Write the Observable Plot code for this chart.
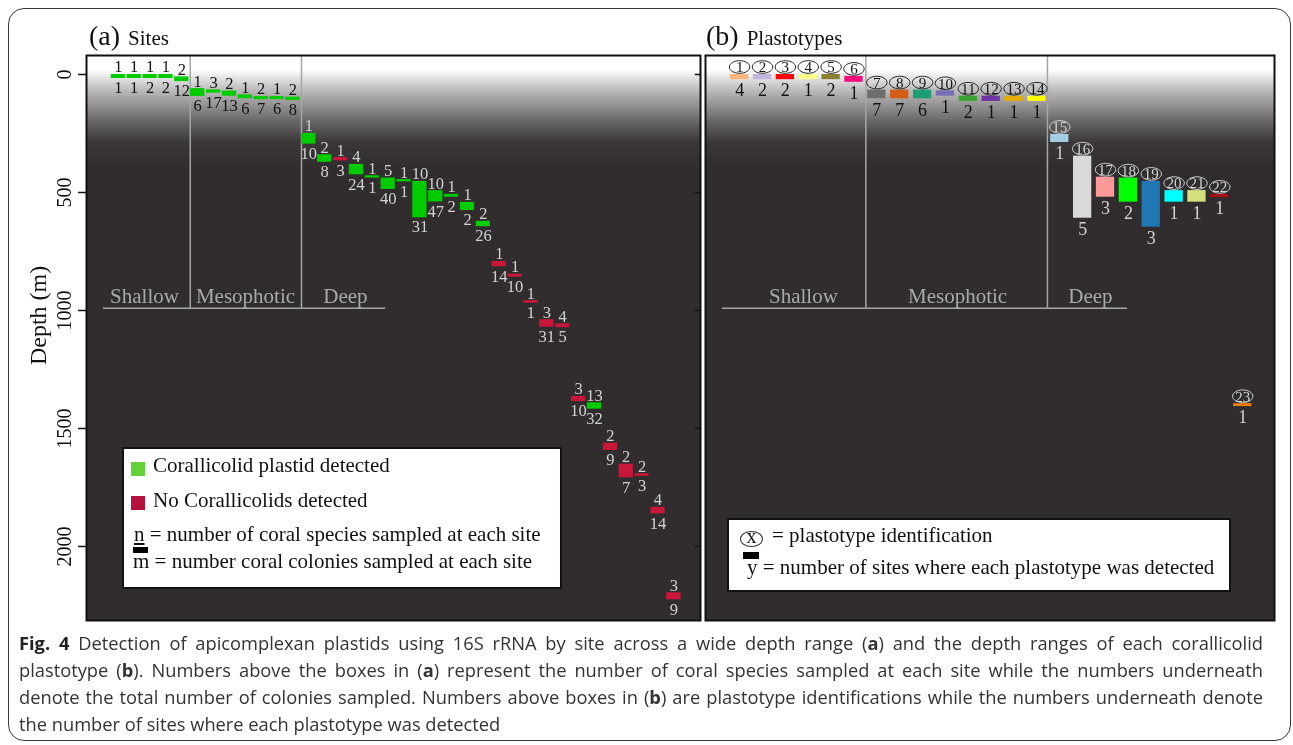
<!DOCTYPE html>
<html>
<head>
<meta charset="utf-8">
<script src="https://cdn.jsdelivr.net/npm/d3@7"></script>
<script src="https://cdn.jsdelivr.net/npm/@observablehq/plot@0.6"></script>
<style>
  body { margin: 0; background: #fff; }
  #page { position: relative; width: 1293px; height: 745px; overflow: hidden; font-family: "Liberation Serif", "Times New Roman", serif; background: #fff; }
  .abs { position: absolute; }
  .cap { position: absolute; left: 19px; width: 1244px; font-family: "Open Sans", sans-serif; font-size: 18.3px; line-height: 27px; color: #333; }
  .just { text-align: justify; text-align-last: justify; }
  .lift { mix-blend-mode: lighten; pointer-events: none;
          background: linear-gradient(to bottom, #ffffff 0%, #ffffff 2.6%, #cacaca 5.4%, #8c8c8c 8.9%, #5a5a5a 11.9%, #383838 15.4%, #000000 19%, #000000 100%); }
</style>
</head>
<body>
<div id="page">
  <div class="abs" style="left:8px;top:8px;width:1281px;height:731px;border:1.5px solid #3a3a3a;border-radius:16px;"></div>
  <div id="bgA" class="abs" style="left:0;top:0"></div>
  <div id="bgB" class="abs" style="left:703px;top:0"></div>
  <div class="abs lift" style="left:86px;top:55px;width:614px;height:565px"></div>
  <div class="abs lift" style="left:705px;top:55px;width:569px;height:565px"></div>
  <div id="chartA" class="abs" style="left:0;top:0"></div>
  <div id="chartB" class="abs" style="left:703px;top:0"></div>

  <div class="abs" style="left:89px;top:20px;white-space:nowrap;color:#111"><span style="font-size:28px">(a)</span><span style="font-size:21px;margin-left:8px">Sites</span></div>
  <div class="abs" style="left:706px;top:20px;white-space:nowrap;color:#111"><span style="font-size:28px">(b)</span><span style="font-size:21px;margin-left:8px">Plastotypes</span></div>

  <!-- legend (a) -->
  <div class="abs" style="left:122px;top:447px;width:436px;height:138px;background:#fff;border:2px solid #111;"></div>
  <div class="abs" style="left:131px;top:462px;width:14px;height:14px;background:#62d238"></div>
  <div class="abs" style="left:153px;top:453px;font-size:21px;color:#111;white-space:nowrap">Corallicolid plastid detected</div>
  <div class="abs" style="left:131px;top:496px;width:14px;height:14px;background:#b8103e"></div>
  <div class="abs" style="left:153px;top:488px;font-size:21px;color:#111;white-space:nowrap">No Corallicolids detected</div>
  <div class="abs" style="left:134px;top:522px;font-size:21px;color:#111;white-space:nowrap"><span style="text-decoration:underline">n</span> = number of coral species sampled at each site</div>
  <div class="abs" style="left:133px;top:547px;width:15px;height:6px;background:#000"></div>
  <div class="abs" style="left:133px;top:549px;font-size:21px;color:#111;white-space:nowrap">m = number coral colonies sampled at each site</div>

  <!-- legend (b) -->
  <div class="abs" style="left:727px;top:518px;width:500px;height:70px;background:#fff;border:2px solid #111;"></div>
  <div class="abs" style="left:740px;top:531px;width:23px;height:16px;border:1px solid #333;border-radius:50%;box-sizing:border-box"></div>
  <div class="abs" style="left:740px;top:525px;width:23px;text-align:center;font-size:20px;color:#111">x</div>
  <div class="abs" style="left:772px;top:523px;font-size:21px;color:#111;white-space:nowrap">= plastotype identification</div>
  <div class="abs" style="left:743px;top:552px;width:16px;height:7px;background:#000"></div>
  <div class="abs" style="left:747px;top:555px;font-size:21px;color:#111;white-space:nowrap">y = number of sites where each plastotype was detected</div>

  <div class="cap just" style="top:629px"><b style="color:#222">Fig. 4</b> Detection of apicomplexan plastids using 16S rRNA by site across a wide depth range (<b>a</b>) and the depth ranges of each corallicolid</div>
  <div class="cap just" style="top:656px">plastotype (<b>b</b>). Numbers above the boxes in (<b>a</b>) represent the number of coral species sampled at each site while the numbers underneath</div>
  <div class="cap just" style="top:683px">denote the total number of colonies sampled. Numbers above boxes in (<b>b</b>) are plastotype identifications while the numbers underneath denote</div>
  <div class="cap" style="top:710px;white-space:nowrap">the number of sites where each plastotype was detected</div>
</div>

<script>
// ---------------- DATA ----------------
// Panel (a): sites, ordered left to right
const siteTop    = [0, 0, 0, 0, 10, 60, 65, 70, 86, 93, 93, 96, 250, 340, 352, 381, 429, 439, 445, 453, 492, 508, 542, 622, 792, 846, 958, 1039, 1056, 1364, 1391, 1562, 1651, 1692, 1834, 2196];
const siteBottom = [17, 17, 17, 17, 30, 93, 79, 92, 103, 107, 107, 110, 295, 372, 366, 425, 439, 487, 455, 607, 540, 520, 576, 645, 815, 859, 969, 1071, 1073, 1386, 1418, 1593, 1709, 1703, 1862, 2226];
const siteSpecies  = [1, 1, 1, 1, 2, 1, 3, 2, 1, 2, 1, 2, 1, 2, 1, 4, 1, 5, 1, 10, 10, 1, 1, 2, 1, 1, 1, 3, 4, 3, 13, 2, 2, 2, 4, 3];
const siteColonies = [1, 1, 2, 2, 12, 6, 17, 13, 6, 7, 6, 8, 10, 8, 3, 24, 1, 40, 1, 31, 47, 2, 2, 26, 14, 10, 1, 31, 5, 10, 32, 9, 7, 3, 14, 9];
const G = "Corallicolid plastid detected", R = "No Corallicolids detected";
const siteStatus = [G, G, G, G, G, G, G, G, G, G, G, G, G, G, R, G, G, G, G, G, G, G, G, G, R, R, R, R, R, R, G, R, R, R, R, R];

// Panel (b): plastotypes
const plastoId     = [1, 2, 3, 4, 5, 6, 7, 8, 9, 10, 11, 12, 13, 14, 15, 16, 17, 18, 19, 20, 21, 22, 23];
const plastoTop    = [0, 0, 0, 0, 0, 8, 66, 66, 66, 69, 92, 92, 92, 92, 254, 346, 435, 439, 453, 492, 492, 508, 1395];
const plastoBottom = [22, 22, 22, 22, 22, 33, 103, 103, 103, 92, 114, 114, 114, 114, 288, 609, 520, 541, 647, 541, 541, 522, 1407];
const plastoSites  = [4, 2, 2, 1, 2, 1, 7, 7, 6, 1, 2, 1, 1, 1, 1, 5, 3, 2, 3, 1, 1, 1, 1];
const plastoColors = ["#fdb57e", "#c2b3df", "#ff0000", "#ffff8a", "#8a8232", "#f5097f", "#6d6d6d", "#d35f17", "#1b9e77", "#7570b3", "#3ba534", "#7133a1", "#e6ab02", "#ffff00", "#a6cee3", "#d9d9d9", "#fb9a99", "#00ff00", "#1f78b4", "#00ffff", "#d4e07c", "#a50f15", "#ff7f00"];

const yTicks = [0, 500, 1000, 1500, 2000];
const zoneNames = ["Shallow", "Mesophotic", "Deep"];

// ---------------- LAYOUT / STYLE ----------------
const yDomain = [-80.5, 2313.6];
const zoneBottom = 991, zoneLabelDepth = 940;
const FONT = "Liberation Serif, Times New Roman, serif";
const LIGHT_TXT = "#d2d2d2", DARK_TXT = "#111";
const DARK_BG = "#312d2e";

// background shading: transparent near the surface, charcoal with growing opacity below
const shadeDepths = [-81, -25, 45, 130, 205, 290, 400];
const shadeAlpha  = [0, 0, 0.25, 0.51, 0.74, 0.95, 1];
const alphaAt = d3.scaleLinear().domain(shadeDepths).range(shadeAlpha).clamp(true);
const bandStep = 4.25; // about one pixel of depth
function background(xd) {
  const marks = [Plot.rect([0], {x1: xd[0], x2: xd[1], y1: 400, y2: yDomain[1], fill: DARK_BG, shapeRendering: "crispEdges"})];
  for (let y = -25; y < 400; y += bandStep) {
    marks.push(Plot.rect([0], {x1: xd[0], x2: xd[1], y1: y, y2: y + bandStep, fill: DARK_BG, fillOpacity: alphaAt(y + bandStep / 2), shapeRendering: "crispEdges"}));
  }
  return marks;
}

const baseA = {
  width: 702, height: 625,
  marginLeft: 86, marginRight: 2, marginTop: 55, marginBottom: 5,
  y: {domain: yDomain, reverse: true, axis: null},
  style: {fontFamily: FONT, background: "none", overflow: "visible"}
};
const baseB = {
  width: 573, height: 625,
  marginLeft: 2, marginRight: 2, marginTop: 55, marginBottom: 5,
  y: {domain: yDomain, reverse: true, axis: null},
  color: {type: "identity"},
  style: {fontFamily: FONT, background: "none", overflow: "visible"}
};

// ---------------- PANEL A ----------------
const sites = siteTop.map((t, i) => ({i, top: t, bottom: siteBottom[i], n: siteSpecies[i], m: siteColonies[i], status: siteStatus[i]}));
const xA = [-1.556, 37.13];
const wA = 0.9;
const onLightA = d => d.top < 150;

document.getElementById("bgA").appendChild(Plot.plot({...baseA, x: {domain: xA, axis: null}, marks: background(xA)}));

const chartA = Plot.plot({
  ...baseA,
  x: {domain: xA, axis: null},
  marks: [
    Plot.ruleX([4.98, 11.99], {y1: yDomain[0], y2: zoneBottom, stroke: "#a5a5a5", strokeWidth: 1.5}),
    Plot.ruleY([zoneBottom], {x1: -0.48, x2: 17.3, stroke: "#a5a5a5", strokeWidth: 1.5}),
    Plot.text(zoneNames, {x: (d, i) => [2.1, 8.46, 14.76][i], y: zoneLabelDepth, text: d => d, fill: "#a9a9a9", fontSize: 21}),
    Plot.rect(sites, {filter: d => d.status === G, x1: "i", x2: d => d.i + wA, y1: "top", y2: "bottom", fill: "#00cc00"}),
    Plot.rect(sites, {filter: d => d.status === R, x1: "i", x2: d => d.i + wA, y1: "top", y2: "bottom", fill: "#c8173a"}),
    Plot.text(sites, {filter: onLightA, x: d => d.i + wA / 2, y: "top", text: "n", lineAnchor: "bottom", dy: -2, fill: DARK_TXT, fontSize: 16.5}),
    Plot.text(sites, {filter: d => !onLightA(d), x: d => d.i + wA / 2, y: "top", text: "n", lineAnchor: "bottom", dy: -2, fill: LIGHT_TXT, fontSize: 16.5}),
    Plot.text(sites, {filter: onLightA, x: d => d.i + wA / 2, y: "bottom", text: "m", lineAnchor: "top", dy: 3, fill: DARK_TXT, fontSize: 16.5}),
    Plot.text(sites, {filter: d => !onLightA(d), x: d => d.i + wA / 2, y: "bottom", text: "m", lineAnchor: "top", dy: 3, fill: LIGHT_TXT, fontSize: 16.5}),
    Plot.ruleY(yTicks, {x1: xA[0] - 0.5, x2: xA[0], stroke: "#111", strokeWidth: 1.5}),
    Plot.ruleY(yTicks, {x1: xA[1] - 0.33, x2: xA[1], stroke: "#111", strokeWidth: 1.5}),
    Plot.text(yTicks, {x: xA[0], y: d => d, text: d => String(d), rotate: -90, textAnchor: "middle", lineAnchor: "bottom", dx: -16, fill: "#111", fontSize: 20}),
    Plot.text(["Depth (m)"], {x: xA[0], y: 1021, text: d => d, rotate: -90, textAnchor: "middle", lineAnchor: "bottom", dx: -41, fill: "#111", fontSize: 24}),
    Plot.frame({stroke: "#111", strokeWidth: 2, fill: "none"})
  ]
});
document.getElementById("chartA").appendChild(chartA);

// ---------------- PANEL B ----------------
const plastos = plastoId.map((id, i) => ({i, id, top: plastoTop[i], bottom: plastoBottom[i], sites: plastoSites[i], color: plastoColors[i]}));
const xB = [-1.093, 23.79];
const wB = 0.8;
const onLightB = d => d.top < 150;
const ellipse = {
  draw(ctx) {
    const rx = 10.2, ry = 6.3, k = 0.5523;
    ctx.moveTo(rx, 0);
    ctx.bezierCurveTo(rx, ry * k, rx * k, ry, 0, ry);
    ctx.bezierCurveTo(-rx * k, ry, -rx, ry * k, -rx, 0);
    ctx.bezierCurveTo(-rx, -ry * k, -rx * k, -ry, 0, -ry);
    ctx.bezierCurveTo(rx * k, -ry, rx, -ry * k, rx, 0);
    ctx.closePath();
  }
};

document.getElementById("bgB").appendChild(Plot.plot({...baseB, x: {domain: xB, axis: null}, marks: background(xB)}));

const chartB = Plot.plot({
  ...baseB,
  x: {domain: xB, axis: null},
  marks: [
    Plot.ruleX([5.92, 13.86], {y1: yDomain[0], y2: zoneBottom, stroke: "#a5a5a5", strokeWidth: 1.5}),
    Plot.ruleY([zoneBottom], {x1: -0.35, x2: 17.36, stroke: "#a5a5a5", strokeWidth: 1.5}),
    Plot.text(zoneNames, {x: (d, i) => [3.19, 9.93, 15.74][i], y: zoneLabelDepth, text: d => d, fill: "#a9a9a9", fontSize: 21}),
    Plot.rect(plastos, {x1: "i", x2: d => d.i + wB, y1: "top", y2: "bottom", fill: "color"}),
    Plot.dot(plastos, {filter: onLightB, x: d => d.i + wB / 2, y: "top", dy: -7.5, symbol: ellipse, stroke: "#222", strokeWidth: 1, fill: "none"}),
    Plot.dot(plastos, {filter: d => !onLightB(d), x: d => d.i + wB / 2, y: "top", dy: -7.5, symbol: ellipse, stroke: LIGHT_TXT, strokeWidth: 1, fill: "none"}),
    Plot.text(plastos, {filter: onLightB, x: d => d.i + wB / 2, y: "top", text: "id", dy: -7, lineAnchor: "middle", fill: DARK_TXT, fontSize: 15}),
    Plot.text(plastos, {filter: d => !onLightB(d), x: d => d.i + wB / 2, y: "top", text: "id", dy: -7, lineAnchor: "middle", fill: LIGHT_TXT, fontSize: 15}),
    Plot.text(plastos, {filter: d => d.bottom < 150, x: d => d.i + wB / 2, y: "bottom", text: "sites", lineAnchor: "top", dy: 4, fill: DARK_TXT, fontSize: 18}),
    Plot.text(plastos, {filter: d => d.bottom >= 150, x: d => d.i + wB / 2, y: "bottom", text: "sites", lineAnchor: "top", dy: 4, fill: LIGHT_TXT, fontSize: 18}),
    Plot.frame({stroke: "#111", strokeWidth: 2, fill: "none"})
  ]
});
document.getElementById("chartB").appendChild(chartB);
</script>
</body>
</html>
